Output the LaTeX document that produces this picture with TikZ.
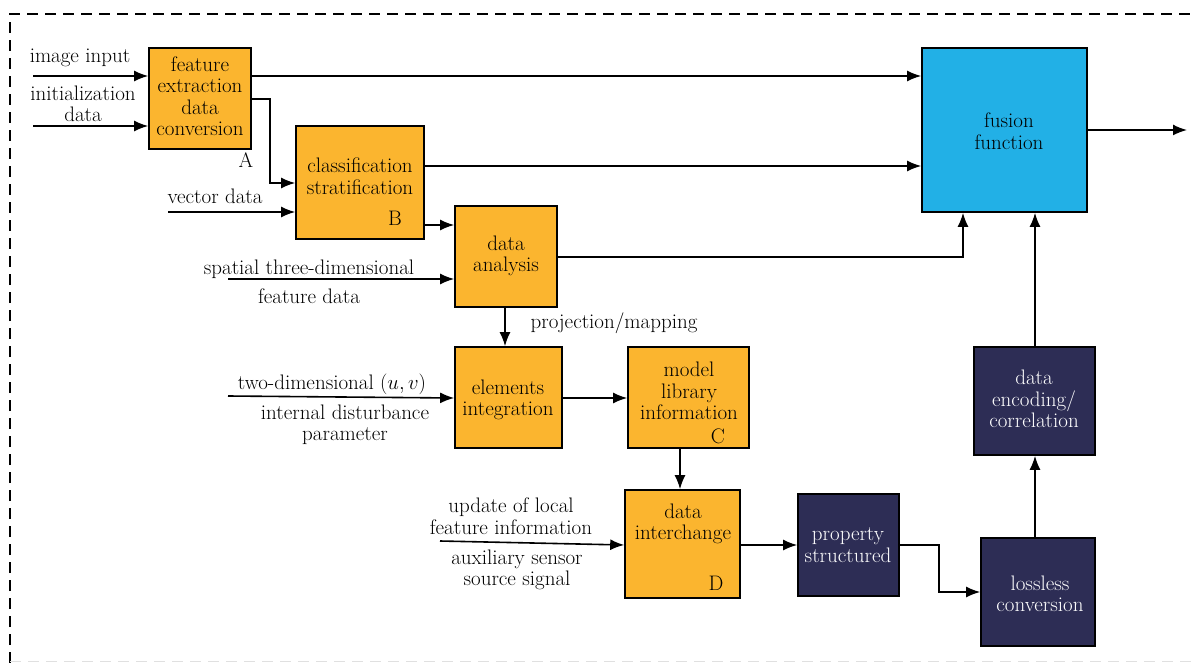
\documentclass[tikz,border=0pt]{standalone}
\usepackage{fontspec}
\setmainfont{Latin Modern Roman}
\usetikzlibrary{arrows.meta}
\definecolor{orangebox}{HTML}{FBB52F}
\definecolor{bluebox}{HTML}{22B0E6}
\definecolor{navybox}{HTML}{2D2D55}
\begin{document}
\begin{tikzpicture}[x=1pt,y=-1pt,
  box/.style={draw=black,line width=1.6pt,inner sep=0pt},
  obox/.style={box,fill=orangebox},
  bbox/.style={box,fill=bluebox},
  nbox/.style={box,fill=navybox},
  txt/.style={inner sep=0pt,align=center,font=\fontsize{21}{21.5}\selectfont},
  wtxt/.style={txt,text=white},
  arr/.style={line width=1.6pt,-{Latex[length=14pt,width=11pt]}},
  ln/.style={line width=1.6pt}]
\useasboundingbox (0,0) rectangle (1197,663);
% frame
\draw[line width=1.5pt,dash pattern=on 11pt off 7pt] (10,663) -- (10,14) -- (1197,14);
\draw[line width=1pt,black!12,dash pattern=on 11pt off 7pt] (10,661) -- (1197,661);
% boxes
\node[obox,minimum width=102pt,minimum height=101pt] (A) at (200,98.5) {};
\node[obox,minimum width=128pt,minimum height=113pt] (B) at (360,182.5) {};
\node[obox,minimum width=102pt,minimum height=101pt] (DA) at (506,256.5) {};
\node[obox,minimum width=107pt,minimum height=101pt] (EI) at (508.5,397.5) {};
\node[obox,minimum width=121pt,minimum height=101pt] (ML) at (688.5,397.5) {};
\node[obox,minimum width=115pt,minimum height=108pt] (DI) at (682.5,544) {};
\node[nbox,minimum width=101pt,minimum height=102pt] (PS) at (848.5,545) {};
\node[nbox,minimum width=114pt,minimum height=108pt] (LC) at (1038,592) {};
\node[nbox,minimum width=121pt,minimum height=108pt] (DE) at (1034.5,401) {};
\node[bbox,minimum width=165pt,minimum height=164pt] (FF) at (1004.5,130) {};
% box texts
\node[txt] (tA) at (200,96) {feature\\extraction\\data\\conversion};
\node[txt] (tB) at (360,176) {classification\\stratification};
\node[txt] (tDA) at (506,256) {data\\analysis};
\node[txt] (tEI) at (508,400) {elements\\integration};
\node[txt] (tML) at (689,391) {model\\library\\information};
\node[txt] (tDI) at (683,524) {data\\interchange};
\node[wtxt] (tPS) at (848,545) {property\\structured};
\node[wtxt] (tLC) at (1040,594) {lossless\\conversion};
\node[wtxt] (tDE) at (1034,399) {data\\encoding/\\correlation};
\node[txt] (tFF) at (1009,131) {fusion\\function};
\node[txt] (lA) at (246,160) {A};
\node[txt] (lB) at (395,218) {B};
\node[txt] (lC) at (718,436) {C};
\node[txt] (lD) at (716,583) {D};
% free ends
\coordinate (in1) at (33,76);
\coordinate (in2) at (33,126);
\coordinate (in3) at (168,212);
\coordinate (in4) at (228,279);
\coordinate (in5) at (228,396);
\coordinate (in6) at (440,541);
\coordinate (out) at (1187,130);
% input labels
\node[txt] (l1) at (80,58) {image input};
\node[txt] (l2) at (83,104) {initialization\\data};
\node[txt] (l3) at (215,196) {vector data};
\node[txt] (l4a) at (309,269) {spatial three-dimensional};
\node[txt] (l4b) at (309,296) {feature data};
\node[txt] (l5a) at (332,384) {two-dimensional $(u,v)$};
\node[txt] (l5b) at (345,425) {internal disturbance\\parameter};
\node[txt] (l6a) at (511,516) {update of local\\feature information};
\node[txt] (l6b) at (517,570) {auxiliary sensor\\source signal};
\node[txt] (lpm) at (614,323) {projection/mapping};
% connectors
\draw[arr] (in1) -- (A.west |- in1);
\draw[arr] (in2) -- (A.west |- in2);
\draw[arr] (A.east |- 0,76) -- (FF.west |- 0,76);
\draw[arr] (A.east |- 0,99) -- (270,99) |- (B.west |- 0,183);
\draw[arr] (in3) -- (B.west |- in3);
\draw[arr] (B.east |- 0,166) -- (FF.west |- 0,166);
\draw[arr] (B.east |- 0,225) -- (DA.west |- 0,225);
\draw[arr] (in4) -- (DA.west |- in4);
\draw[arr] (DA.east |- 0,257) -| (FF.south -| 963,0);
\draw[arr] (DA.south -| 505,0) -- (EI.north -| 505,0);
\draw[arr] (in5) -- (EI.west |- 0,398);
\draw[arr] (EI.east |- 0,398) -- (ML.west |- 0,398);
\draw[arr] (ML.south -| 680,0) -- (DI.north -| 680,0);
\draw[arr] (in6) -- (DI.west |- 0,545);
\draw[arr] (DI.east |- 0,545) -- (PS.west |- 0,545);
\draw[arr] (PS.east |- 0,545) -- (939,545) |- (LC.west |- 0,592);
\draw[arr] (LC.north -| 1035,0) -- (DE.south -| 1035,0);
\draw[arr] (DE.north -| 1035,0) -- (FF.south -| 1035,0);
\draw[arr] (FF.east) -- (out);
\end{tikzpicture}
\end{document}
